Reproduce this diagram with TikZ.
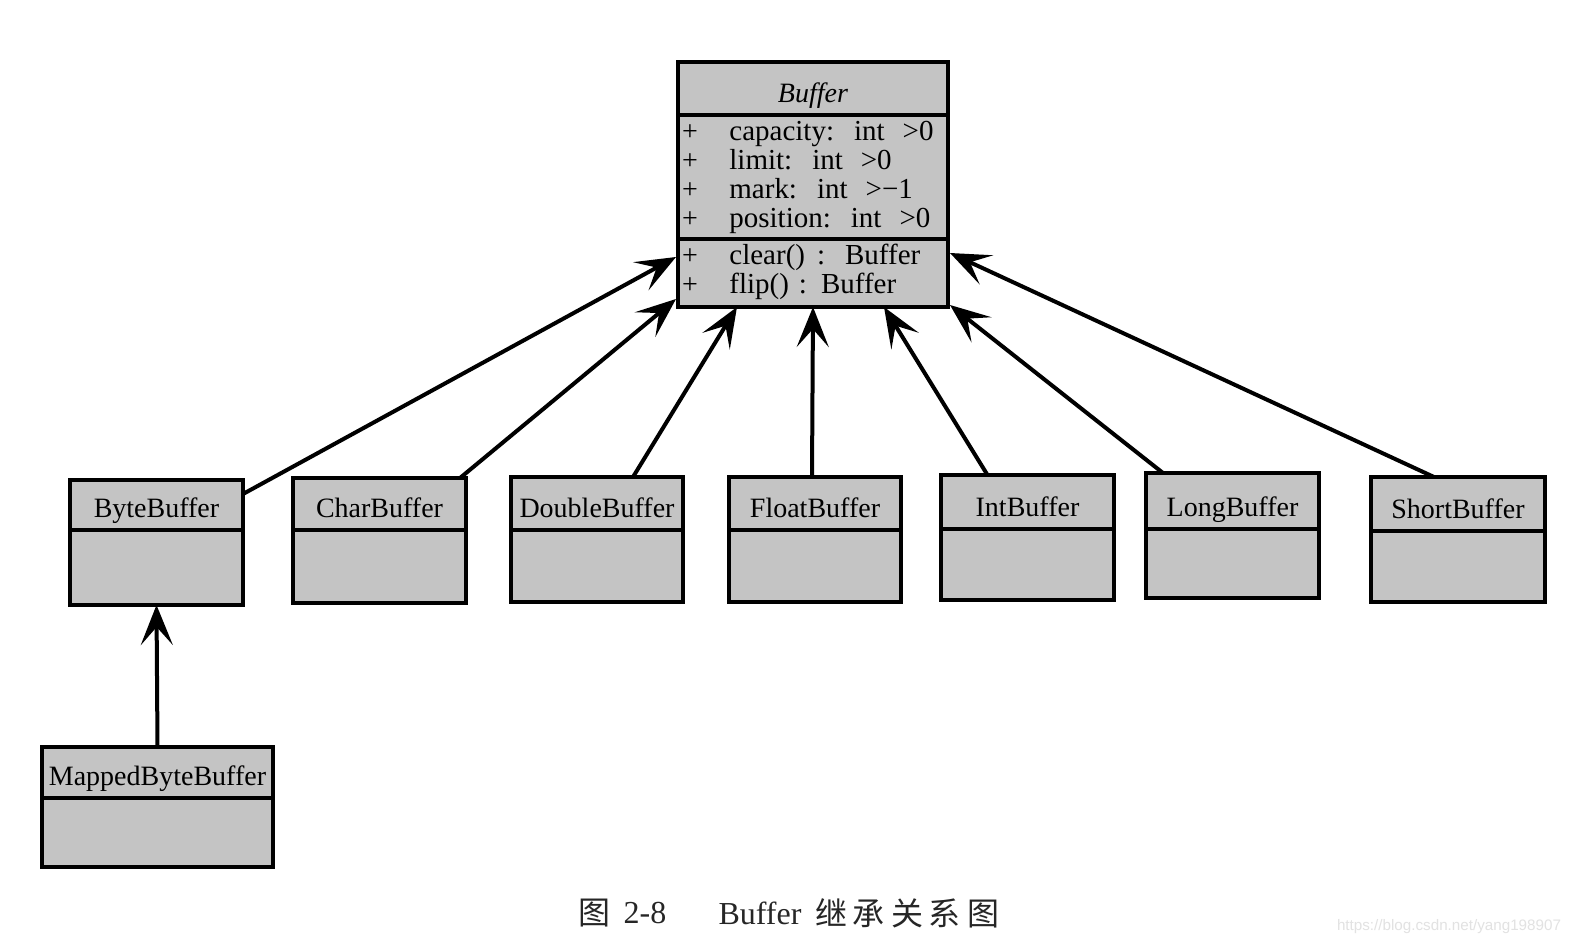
\documentclass[tikz,border=0pt]{standalone}
\usepackage{fontspec}
\setmainfont{Liberation Serif}
\newfontfamily\cjkfont{Noto Sans CJK SC}
\newfontfamily\wmfont{Liberation Sans}
\usetikzlibrary{arrows.meta}
\definecolor{boxgray}{RGB}{196,196,196}
\definecolor{wmgray}{RGB}{226,226,226}
\newcommand\umlcls[7]{%
  \node[clsbox, anchor=north west, minimum width={(#4-#2)*0.5pt}, minimum height={(#6-#3)*0.5pt}] (#1) at (#2,#3) {};
  \draw[clsline] (#2,#5) -- (#4,#5);
  \node[clstitle] (#1-t) at ({(#2+#4)/2},{#5-13}) {#7};
}
\begin{document}
\begin{tikzpicture}[x=0.5pt,y=-0.5pt,
  clsbox/.style={draw=black, fill=boxgray, line width=2pt, inner sep=0pt, outer sep=0pt},
  clsline/.style={line width=2pt},
  clstitle/.style={font=\fontsize{14}{16}\selectfont, inner sep=0pt, anchor=base},
  attr/.style={font=\fontsize{14.5}{16}\selectfont, inner sep=0pt, anchor=base west},
  plus/.style={font=\fontsize{14}{16}\selectfont, inner sep=0pt, anchor=base},
  inh/.style={line width=2pt, -{Stealth[length=20pt,width=16pt,inset=9pt]}},
  captext/.style={font=\fontsize{16}{18}\selectfont, inner sep=0pt, text=black!85},
  wm/.style={font=\wmfont\fontsize{7.6}{9}\selectfont, inner sep=0pt, text=wmgray}
]
\useasboundingbox[fill=white] (0,0) rectangle (1576,948);

% Buffer class
\umlcls{buf}{678}{62}{948}{115}{307}{\textit{Buffer}}
\draw[clsline] (678,239) -- (948,239);
\node[plus] (p1) at (690,140) {+};
\node[plus] (p2) at (690,169) {+};
\node[plus] (p3) at (690,198) {+};
\node[plus] (p4) at (690,227) {+};
\node[plus] (p5) at (690,264) {+};
\node[plus] (p6) at (690,293) {+};
\node[attr] (a1) at (729,140) {capacity:\hspace{10pt}int\hspace{9pt}>0};
\node[attr] (a2) at (729,169) {limit:\hspace{10pt}int\hspace{9pt}>0};
\node[attr] (a3) at (729,198) {mark:\hspace{10pt}int\hspace{9pt}>−1};
\node[attr] (a4) at (729,227) {position:\hspace{10pt}int\hspace{9pt}>0};
\node[attr] (m1) at (729,264) {clear()\hspace{6pt}:\hspace{10pt}Buffer};
\node[attr] (m2) at (729,293) {flip()\hspace{5pt}:\hspace{7pt}Buffer};

% subclasses
\umlcls{byte}{70}{480}{243}{530}{605}{ByteBuffer}
\umlcls{char}{293}{478}{466}{530}{603}{CharBuffer}
\umlcls{double}{511}{477}{683}{530}{602}{DoubleBuffer}
\umlcls{float}{729}{477}{901}{530}{602}{FloatBuffer}
\umlcls{int}{941}{475}{1114}{529}{600}{IntBuffer}
\umlcls{long}{1146}{473}{1319}{529}{598}{LongBuffer}
\umlcls{short}{1371}{477}{1545}{531}{602}{ShortBuffer}
\umlcls{mapped}{42}{747}{273}{798}{867}{MappedByteBuffer}

% inheritance arrows
\draw[inh] ([yshift=-7pt]byte.north east) -- ([xshift=-1pt,yshift=25pt]buf.south west);
\draw[inh] ([xshift=-3pt]char.north east) -- ([xshift=-1pt,yshift=4pt]buf.south west);
\draw[inh] ([xshift=18pt]double.north) -- ([xshift=29.5pt]buf.south west);
\draw[inh] ([xshift=-1.5pt]float.north) -- (buf.south);
\draw[inh] ([xshift=-20pt]int.north) -- ([xshift=103pt]buf.south west);
\draw[inh] ([xshift=8.5pt]long.north west) -- ([xshift=1pt,yshift=1pt]buf.south east);
\draw[inh] ([xshift=-12pt]short.north) -- ([xshift=1pt,yshift=27pt]buf.south east);
\draw[inh] (mapped.north) -- (byte.south);

% caption
\node[captext] (c1) at (594,913) {\cjkfont 图};
\node[captext] (c2) at (645,913) {2-8};
\node[captext] (c3) at (760,913) {Buffer};
\node[captext] (c4) at (907,913) {\cjkfont 继\hspace{3pt}承\hspace{3pt}关\hspace{3pt}系\hspace{3pt}图};

% watermark
\node[wm] (w) at (1449,927) {https://blog.csdn.net/yang198907};
\end{tikzpicture}
\end{document}
